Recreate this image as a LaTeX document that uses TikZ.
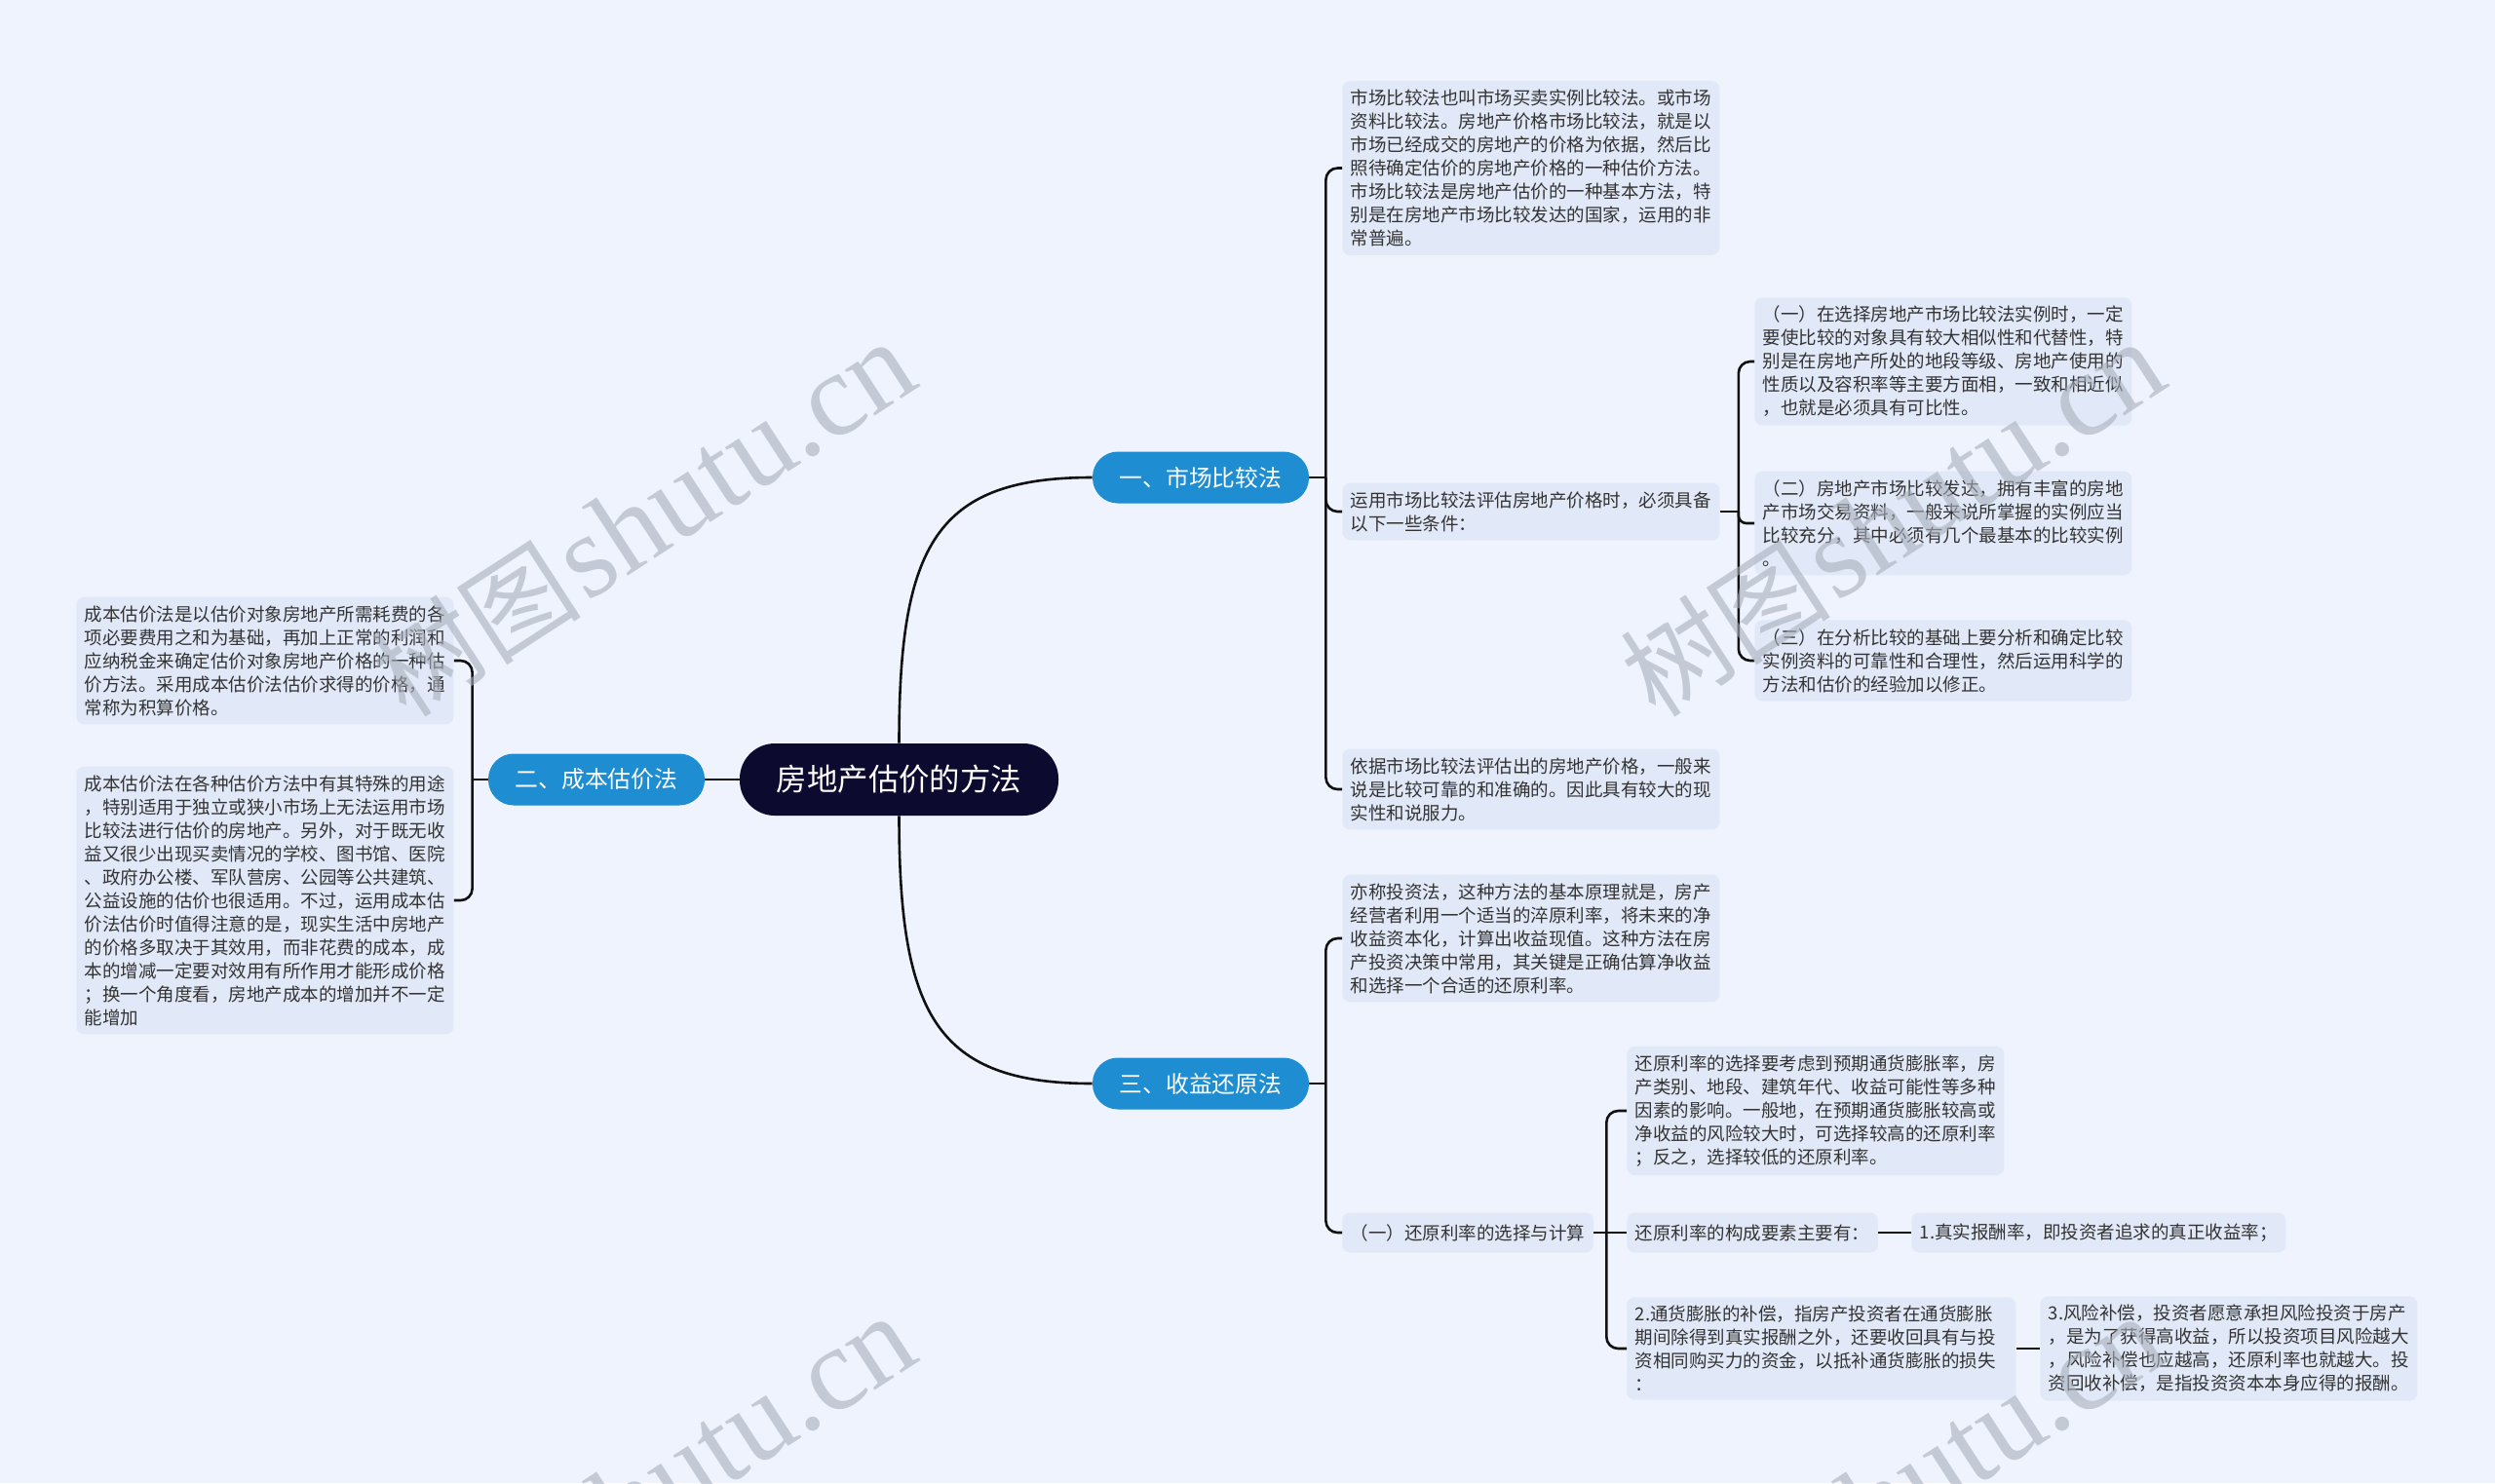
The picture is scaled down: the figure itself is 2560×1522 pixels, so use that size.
\documentclass[tikz,border=0pt]{standalone}
\usepackage{fontspec}
\setmainfont{Noto Sans CJK SC}
\newfontfamily\wmserif{Liberation Serif}
\usepackage{tikz}
\definecolor{STBack}{HTML}{EEF3FE}
\definecolor{STLeaf}{HTML}{E1E9F8}
\definecolor{STRoot}{HTML}{0C0A2E}
\definecolor{STBranch}{HTML}{1E8DD2}
\definecolor{STInk}{HTML}{333333}
\definecolor{STLine}{HTML}{111111}
\definecolor{STMark}{HTML}{A8AFBB}
\tikzset{
  rootnode/.style={fill=STRoot,text=white,rounded corners=18pt,minimum width=163.5pt,
                   minimum height=37pt,font=\fontsize{15.7}{19}\selectfont},
  branch/.style={fill=STBranch,text=white,rounded corners=13pt,minimum width=111pt,
                 minimum height=26.5pt,font=\fontsize{11.9}{14}\selectfont},
  leaf/.style={fill=STLeaf,text=STInk,rounded corners=4pt,inner xsep=4.25pt,inner ysep=4.4pt,
               minimum height=20.5pt,align=left,font=\fontsize{9.25}{12}\selectfont},
  note/.style={leaf,text width=185pt},
  conn/.style={STLine,line width=1.3pt},
  elbow/.style={conn,rounded corners=6pt},
  watermark/.style={text=STMark,text opacity=0.6,rotate=33,anchor=base east,inner sep=0pt},
}
\newcommand{\wmtext}{{\fontsize{54}{54}\selectfont 树图}\hspace{0.25em}{\wmserif\fontsize{61}{61}\selectfont shutu.cn}}

\begin{document}
\begin{tikzpicture}[x=0.5pt,y=-0.5pt]
    \fill[STBack] (0,0) rectangle (2560,1522);
    \useasboundingbox (0,0) rectangle (2560,1522);

    \node[rootnode] (root) at (922.5,800) {房地产估价的方法};
    \node[branch] (mkt) at (1232,490) {一、市场比较法};
    \node[branch] (cost) at (612,800) {二、成本估价法};
    \node[branch] (inc) at (1232,1112) {三、收益还原法};

    \node[note,anchor=west] (mktA) at (1377,172.5)
      {市场比较法也叫市场买卖实例比较法。或市场\\
       资料比较法。房地产价格市场比较法，就是以\\
       市场已经成交的房地产的价格为依据，然后比\\
       照待确定估价的房地产价格的一种估价方法。\\
       市场比较法是房地产估价的一种基本方法，特\\
       别是在房地产市场比较发达的国家，运用的非\\
       常普遍。};
    \node[note,anchor=west] (mktB) at (1377,525)
      {运用市场比较法评估房地产价格时，必须具备\\
       以下一些条件：};
    \node[note,anchor=west] (mktC) at (1377,810)
      {依据市场比较法评估出的房地产价格，一般来\\
       说是比较可靠的和准确的。因此具有较大的现\\
       实性和说服力。};

    \node[note,anchor=west] (condA) at (1800,371)
      {（一）在选择房地产市场比较法实例时，一定\\
       要使比较的对象具有较大相似性和代替性，特\\
       别是在房地产所处的地段等级、房地产使用的\\
       性质以及容积率等主要方面相，一致和相近似\\
       ，也就是必须具有可比性。};
    \node[note,anchor=west] (condB) at (1800,537)
      {（二）房地产市场比较发达，拥有丰富的房地\\
       产市场交易资料，一般来说所掌握的实例应当\\
       比较充分，其中必须有几个最基本的比较实例\\
       。};
    \node[note,anchor=west] (condC) at (1800,678)
      {（三）在分析比较的基础上要分析和确定比较\\
       实例资料的可靠性和合理性，然后运用科学的\\
       方法和估价的经验加以修正。};

    \node[note,anchor=west] (costA) at (78,678)
      {成本估价法是以估价对象房地产所需耗费的各\\
       项必要费用之和为基础，再加上正常的利润和\\
       应纳税金来确定估价对象房地产价格的一种估\\
       价方法。采用成本估价法估价求得的价格，通\\
       常称为积算价格。};
    \node[note,anchor=west] (costB) at (78,924)
      {成本估价法在各种估价方法中有其特殊的用途\\
       ，特别适用于独立或狭小市场上无法运用市场\\
       比较法进行估价的房地产。另外，对于既无收\\
       益又很少出现买卖情况的学校、图书馆、医院\\
       、政府办公楼、军队营房、公园等公共建筑、\\
       公益设施的估价也很适用。不过，运用成本估\\
       价法估价时值得注意的是，现实生活中房地产\\
       的价格多取决于其效用，而非花费的成本，成\\
       本的增减一定要对效用有所作用才能形成价格\\
       ；换一个角度看，房地产成本的增加并不一定\\
       能增加};

    \node[note,anchor=west] (incA) at (1377,963)
      {亦称投资法，这种方法的基本原理就是，房产\\
       经营者利用一个适当的淬原利率，将未来的净\\
       收益资本化，计算出收益现值。这种方法在房\\
       产投资决策中常用，其关键是正确估算净收益\\
       和选择一个合适的还原利率。};
    \node[leaf,anchor=west] (incB) at (1377,1265) {（一）还原利率的选择与计算};

    \node[note,anchor=west] (rateA) at (1669,1140)
      {还原利率的选择要考虑到预期通货膨胀率，房\\
       产类别、地段、建筑年代、收益可能性等多种\\
       因素的影响。一般地，在预期通货膨胀较高或\\
       净收益的风险较大时，可选择较高的还原利率\\
       ；反之，选择较低的还原利率。};
    \node[leaf,anchor=west] (rateB) at (1669,1265) {还原利率的构成要素主要有：};
    \node[leaf,anchor=west] (rateC) at (1961,1265) {1.真实报酬率，即投资者追求的真正收益率；};
    \node[note,text width=191pt,anchor=west] (rateD) at (1669,1384)
      {2.通货膨胀的补偿，指房产投资者在通货膨胀\\
       期间除得到真实报酬之外，还要收回具有与投\\
       资相同购买力的资金，以抵补通货膨胀的损失\\
       ：};
    \node[note,anchor=west] (rateE) at (2093,1384)
      {3.风险补偿，投资者愿意承担风险投资于房产\\
       ，是为了获得高收益，所以投资项目风险越大\\
       ，风险补偿也应越高，还原利率也就越大。投\\
       资回收补偿，是指投资资本本身应得的报酬。};

    \draw[conn] (root.north) .. controls +(0,-204) and +(-160,0) .. (mkt.west);
    \draw[conn] (root.south) .. controls +(0,204) and +(-160,0) .. (inc.west);
    \draw[conn] (root.west) -- (cost.east);

    \draw[conn] (mkt.east) -- ++(17,0) coordinate (mktT);
    \foreach \n in {mktA,mktB,mktC}
      \draw[elbow] (mktT) |- (\n.west);
    \draw[conn] (mktB.east) -- ++(19,0) coordinate (condT);
    \foreach \n in {condA,condC}
      \draw[elbow] (condT) |- (\n.west);
    \draw[elbow,rounded corners=4pt] (condT) |- (condB.west);

    \draw[conn] (cost.west) -- ++(-16,0) coordinate (costT);
    \foreach \n in {costA,costB}
      \draw[elbow] (costT) |- (\n.east);

    \draw[conn] (inc.east) -- ++(17,0) coordinate (incT);
    \foreach \n in {incA,incB}
      \draw[elbow] (incT) |- (\n.west);
    \draw[conn] (incB.east) -- ++(13,0) coordinate (rateT);
    \foreach \n in {rateA,rateD}
      \draw[elbow] (rateT) |- (\n.west);
    \draw[conn] (rateT) -- (rateB.west);
    \draw[conn] (rateB.east) -- (rateC.west);
    \draw[conn] (rateD.east) -- (rateE.west);

    \node[watermark] (wmA) at (947,395) {\wmtext};
    \node[watermark] (wmB) at (2229,395) {\wmtext};
    \node[watermark] (wmC) at (947,1395) {\wmtext};
    \node[watermark] (wmD) at (2229,1395) {\wmtext};
\end{tikzpicture}
\end{document}
